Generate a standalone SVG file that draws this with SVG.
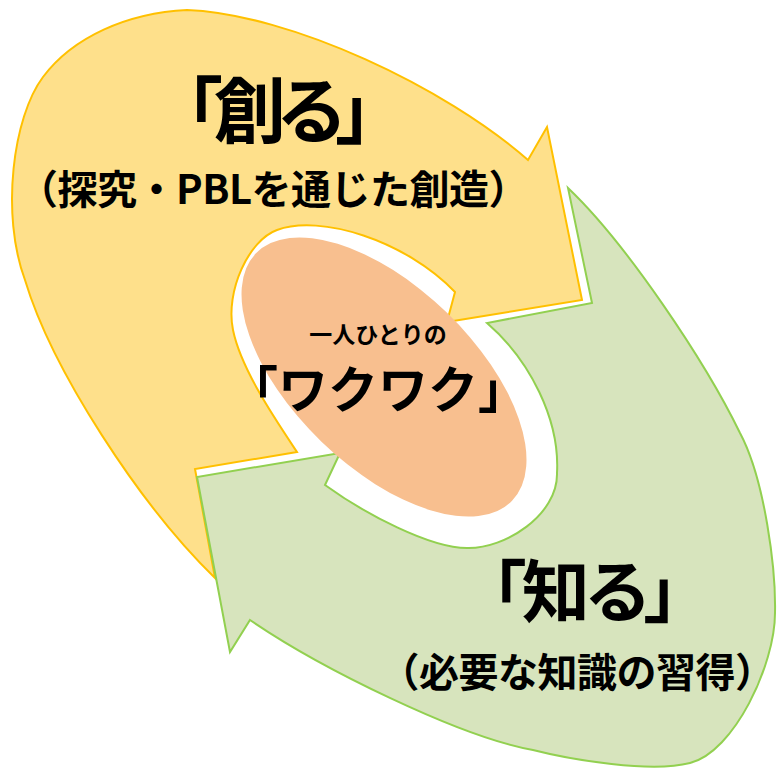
<svg xmlns="http://www.w3.org/2000/svg" width="777" height="770" viewBox="0 0 777 770">
<style>
.yel{fill:#FEE08B;stroke:#FFC000;stroke-width:2;stroke-linejoin:miter}
.grn{fill:#D7E4BD;stroke:#92D050;stroke-width:2;stroke-linejoin:miter}
.core{fill:#F8BF8F}
text{font-family:"Noto Sans CJK JP","Noto Sans",sans-serif;font-weight:700;fill:#000}
.p{font-feature-settings:"palt"}
</style>
<rect width="777" height="770" fill="#ffffff"/>
<g id="connectors">
<g id="arrow-create">
<path class="yel" d="M215,578 C140,505 52,370 25,280 C0.5,214 13,117 43,77 C73,37 127,13 187,10 C290,14 445,87 528,160 L547,127 L582,300 L447,322 L455,292 C405,240 320,214 277,230 C249,240 225,291 233,330 C241,369 275,419 297,452 L195,469 L215,578 Z"/>
</g>
<g id="arrow-know">
<path class="grn" d="M568,188 C626,243 705,361 740,433 C765,480 776,570 775,613 C775,665 734,752 690,763 C651,773 572,760 533,750 C460,737 320,668 250,620 L230,652 L197,477 L340,453 L325,485 C365,514 430,548 467,548 C505,549 558,515 557,473 C560,420 530,360 487,323 L592,303 Z"/>
</g>
</g>
<g id="node-core">
<ellipse class="core" cx="384" cy="377" rx="178" ry="90" transform="rotate(44 384 377)"/>
<text x="378" y="343" font-size="23" text-anchor="middle">一人ひとりの</text>
<text x="378" y="408" font-size="50" text-anchor="middle">「ワクワク」</text>
</g>
<g id="node-create">
<text class="p" x="275" y="137" font-size="72" text-anchor="middle" letter-spacing="-8">「創る」</text>
<text x="273" y="204" font-size="40" text-anchor="middle" letter-spacing="-0.5">（探究・PBLを通じた創造）</text>
</g>
<g id="node-know">
<text class="p" x="583" y="617" font-size="68" text-anchor="middle" letter-spacing="-4">「知る」</text>
<text x="577" y="687" font-size="40" text-anchor="middle" letter-spacing="-0.5">（必要な知識の習得）</text>
</g>
</svg>
